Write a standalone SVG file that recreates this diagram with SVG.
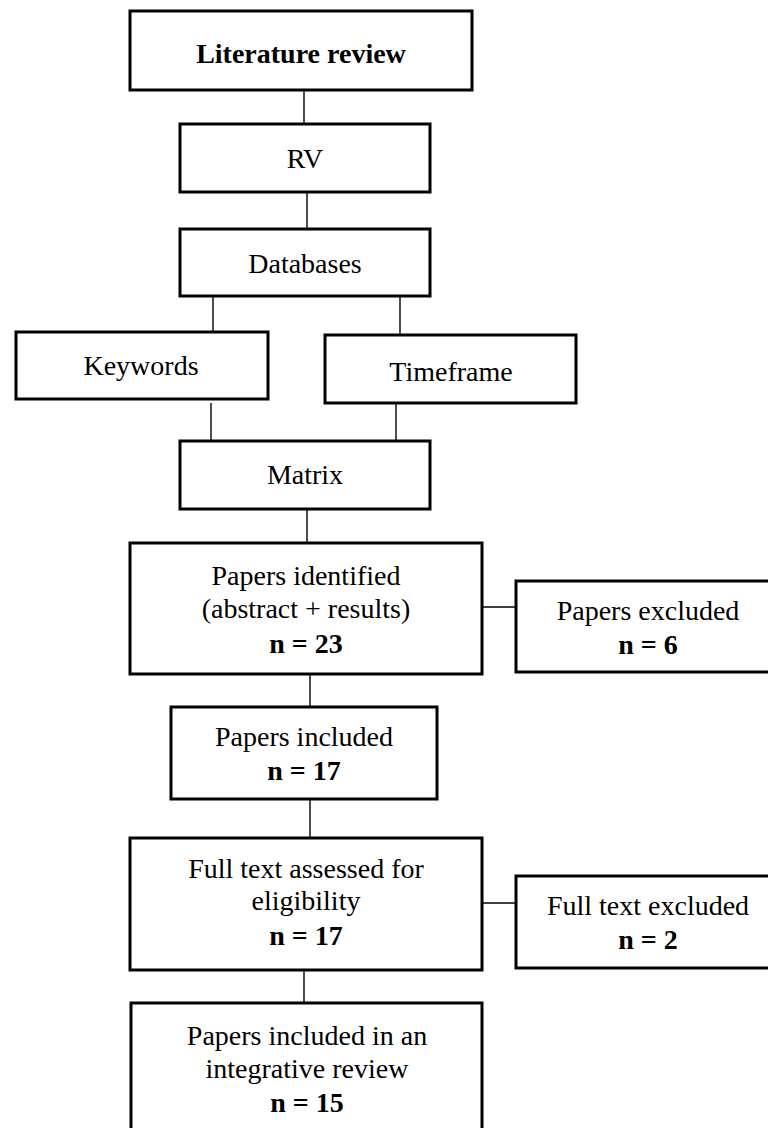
<svg xmlns="http://www.w3.org/2000/svg" width="768" height="1128" viewBox="0 0 768 1128">
<style>
.box{fill:#fff;stroke:#000;stroke-width:3}
.ln{stroke:#000;stroke-width:1.4;fill:none}
text{font-family:"Liberation Serif","Times New Roman",serif;font-size:28px;fill:#000;text-anchor:middle}
.b{font-weight:bold}
</style>
<rect width="768" height="1128" fill="#fff"/>
<g id="connectors">
<line class="ln" x1="304" y1="90" x2="304" y2="124"/>
<line class="ln" x1="307" y1="192" x2="307" y2="229"/>
<line class="ln" x1="213" y1="296" x2="213" y2="332"/>
<line class="ln" x1="400" y1="296" x2="400" y2="335"/>
<line class="ln" x1="211" y1="403" x2="211" y2="441"/>
<line class="ln" x1="396" y1="403" x2="396" y2="441"/>
<line class="ln" x1="307" y1="509" x2="307" y2="543"/>
<line class="ln" x1="482" y1="607" x2="516" y2="607"/>
<line class="ln" x1="310" y1="674" x2="310" y2="707"/>
<line class="ln" x1="310" y1="799" x2="310" y2="838"/>
<line class="ln" x1="482" y1="903" x2="516" y2="903"/>
<line class="ln" x1="304" y1="970" x2="304" y2="1003"/>
</g>
<g id="literature-review">
<rect class="box" x="130" y="11" width="342" height="79"/>
<text class="b" x="301" y="63">Literature review</text>
</g>
<g id="rv">
<rect class="box" x="180" y="124" width="250" height="68"/>
<text x="305" y="168">RV</text>
</g>
<g id="databases">
<rect class="box" x="180" y="229" width="250" height="67"/>
<text x="305" y="273">Databases</text>
</g>
<g id="keywords">
<rect class="box" x="16" y="332" width="252" height="67"/>
<text x="141" y="375">Keywords</text>
</g>
<g id="timeframe">
<rect class="box" x="325" y="335" width="251" height="68"/>
<text x="451" y="381">Timeframe</text>
</g>
<g id="matrix">
<rect class="box" x="180" y="441" width="250" height="68"/>
<text x="305" y="484">Matrix</text>
</g>
<g id="papers-identified">
<rect class="box" x="130" y="543" width="352" height="131"/>
<text x="306" y="585">Papers identified</text>
<text x="306" y="618">(abstract + results)</text>
<text class="b" x="306" y="653">n = 23</text>
</g>
<g id="papers-excluded">
<rect class="box" x="516" y="581" width="266" height="91"/>
<text x="648" y="620">Papers excluded</text>
<text class="b" x="648" y="654">n = 6</text>
</g>
<g id="papers-included">
<rect class="box" x="171" y="707" width="266" height="92"/>
<text x="304" y="746">Papers included</text>
<text class="b" x="304" y="780">n = 17</text>
</g>
<g id="full-text-assessed">
<rect class="box" x="130" y="838" width="352" height="132"/>
<text x="306" y="878">Full text assessed for</text>
<text x="306" y="910">eligibility</text>
<text class="b" x="306" y="945">n = 17</text>
</g>
<g id="full-text-excluded">
<rect class="box" x="516" y="876" width="266" height="92"/>
<text x="648" y="915">Full text excluded</text>
<text class="b" x="648" y="949">n = 2</text>
</g>
<g id="papers-included-review">
<rect class="box" x="131" y="1003" width="351" height="140"/>
<text x="307" y="1045">Papers included in an</text>
<text x="307" y="1078">integrative review</text>
<text class="b" x="307" y="1112">n = 15</text>
</g>
</svg>
